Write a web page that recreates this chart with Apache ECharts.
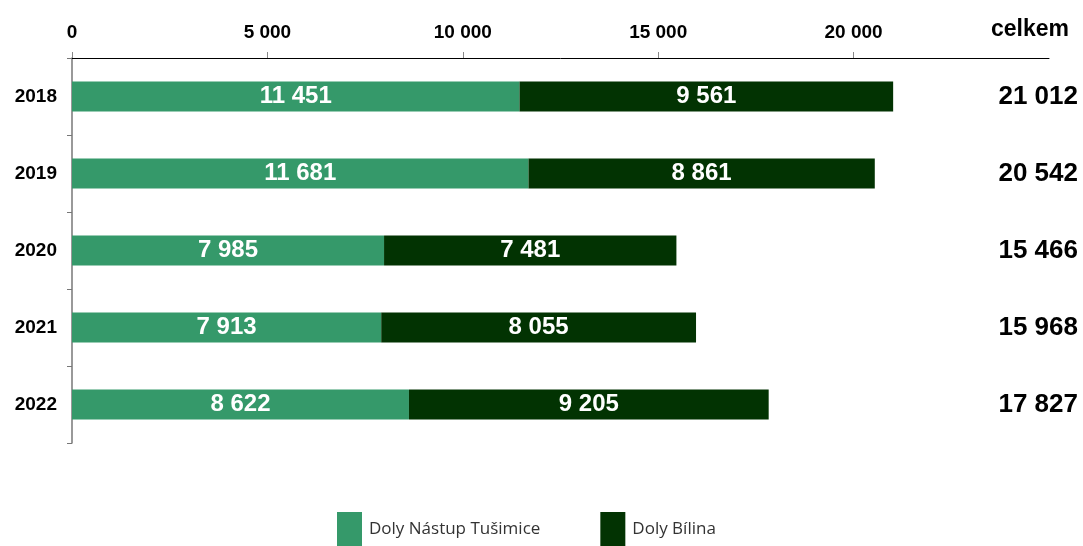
<!DOCTYPE html>
<html>
<head>
<meta charset="utf-8">
<script src="https://cdn.jsdelivr.net/npm/echarts@6/dist/echarts.min.js"></script>
<style>
    html, body { margin: 0; padding: 0; background: #fff; }
    #chart { width: 1083px; height: 546px; }
</style>
</head>
<body>
<div id="chart"></div>
<script>
    var years = ['2018', '2019', '2020', '2021', '2022'];
    var nastup = [11451, 11681, 7985, 7913, 8622];
    var bilina = [9561, 8861, 7481, 8055, 9205];
    var xTicks = [0, 5000, 10000, 15000, 20000];

    var totals = years.map(function (y, i) { return nastup[i] + bilina[i]; });

    function fmt(v) {
        return String(v).replace(/\B(?=(\d{3})+(?!\d))/g, ' ');
    }

    var chart = echarts.init(document.getElementById('chart'));

    var FONT = '"Liberation Sans", Arial, sans-serif';

    var barLabel = {
        show: true,
        position: 'inside',
        color: '#fff',
        fontFamily: FONT,
        fontWeight: 'bold',
        fontSize: 24,
        formatter: function (p) { return fmt(p.value); }
    };

    var option = {
        backgroundColor: '#fff',
        animation: false,
        title: {
            text: 'celkem',
            right: 9,
            top: 13,
            textStyle: {
                fontFamily: FONT,
                fontWeight: 'bold',
                fontSize: 23,
                color: '#000'
            }
        },
        legend: {
            top: 512,
            left: 337,
            padding: 0,
            itemWidth: 25,
            itemHeight: 34,
            itemGap: 60,
            icon: 'rect',
            textStyle: {
                fontFamily: 'Open Sans, sans-serif',
                fontSize: 17,
                color: '#333',
                padding: [18, 0, 0, 2]
            },
            data: ['Doly Nástup Tušimice', 'Doly Bílina']
        },
        grid: {
            left: 72,
            right: 34,
            top: 58,
            bottom: 103
        },
        xAxis: {
            type: 'value',
            position: 'top',
            min: 0,
            max: 25000,
            interval: 5000,
            splitLine: { show: false },
            axisLine: { show: true, lineStyle: { color: '#000', width: 1 } },
            axisTick: {
                show: true,
                length: 6,
                customValues: xTicks,
                lineStyle: { color: '#888' }
            },
            axisLabel: {
                customValues: xTicks,
                margin: 16,
                color: '#000',
                fontFamily: FONT,
                fontWeight: 'bold',
                fontSize: 19,
                formatter: function (v) { return fmt(v); }
            }
        },
        yAxis: [{
            type: 'category',
            inverse: true,
            data: years,
            axisLine: { show: true, lineStyle: { color: '#777', width: 1.5 } },
            axisTick: { show: true, length: 5, lineStyle: { color: '#777' } },
            axisLabel: {
                margin: 15,
                color: '#000',
                fontFamily: FONT,
                fontWeight: 'bold',
                fontSize: 19
            }
        }, {
            type: 'category',
            inverse: true,
            position: 'right',
            data: totals.map(fmt),
            axisLine: { show: false },
            axisTick: { show: false },
            axisLabel: {
                margin: 29,
                align: 'right',
                color: '#000',
                fontFamily: FONT,
                fontWeight: 'bold',
                fontSize: 26
            }
        }],
        series: [{
            name: 'Doly Nástup Tušimice',
            type: 'bar',
            stack: 'total',
            barWidth: 30,
            itemStyle: { color: '#35996a' },
            label: barLabel,
            data: nastup
        }, {
            name: 'Doly Bílina',
            type: 'bar',
            stack: 'total',
            barWidth: 30,
            itemStyle: { color: '#023302' },
            label: barLabel,
            data: bilina
        }]
    };

    chart.setOption(option);
</script>
</body>
</html>
